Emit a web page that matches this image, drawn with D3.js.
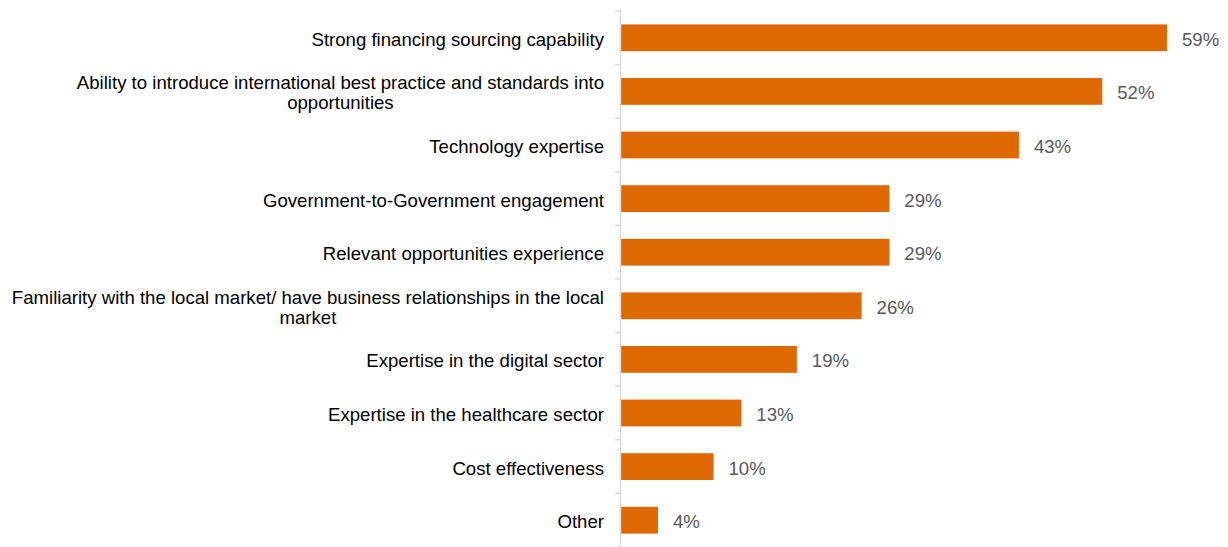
<!DOCTYPE html>
<html>
<head>
<meta charset="utf-8">
<script src="https://cdn.jsdelivr.net/npm/d3@7"></script>
<style>
  html, body { margin: 0; padding: 0; background: #fff; }
  svg { display: block; font-family: "Liberation Sans", Arial, sans-serif; }
</style>
</head>
<body>
<svg id="chart" width="1228" height="547"></svg>
<script>
// Survey responses: share of respondents citing each strength
const categories = [
  ["Strong financing sourcing capability"],
  ["Ability to introduce international best practice and standards into", "opportunities"],
  ["Technology expertise"],
  ["Government-to-Government engagement"],
  ["Relevant opportunities experience"],
  ["Familiarity with the local market/ have business relationships in the local", "market"],
  ["Expertise in the digital sector"],
  ["Expertise in the healthcare sector"],
  ["Cost effectiveness"],
  ["Other"]
];
const values = [59, 52, 43, 29, 29, 26, 19, 13, 10, 4];
const valueLabels = values.map(v => v + "%");

const svg = d3.select("#chart");
const axisX = 621;
const labelRight = 604;
const fontSize = 18.6;
const textShift = 1.5;

const y = d3.scaleBand()
  .domain(d3.range(categories.length))
  .range([11, 547])
  .paddingInner(0.5)
  .paddingOuter(0.25);

const x = d3.scaleLinear()
  .domain([0, 59])
  .range([axisX, 1167]);

// bars
svg.append("g").selectAll("rect")
  .data(values)
  .join("rect")
  .attr("x", x(0))
  .attr("y", (d, i) => y(i))
  .attr("width", d => x(d) - x(0))
  .attr("height", y.bandwidth())
  .attr("fill", "#df6900");

// value labels
svg.append("g").selectAll("text")
  .data(values)
  .join("text")
  .attr("x", d => x(d) + 15)
  .attr("y", (d, i) => y(i) + y.bandwidth() / 2 + textShift)
  .attr("dy", "0.35em")
  .attr("font-size", fontSize)
  .attr("fill", "#595959")
  .text((d, i) => valueLabels[i]);

// category axis line and tick marks at band boundaries
const axisG = svg.append("g");
const step = y.step();
const axisTop = y.range()[0];
axisG.append("line")
  .attr("x1", axisX - 0.5).attr("x2", axisX - 0.5)
  .attr("y1", axisTop).attr("y2", 547)
  .attr("stroke", "#d9d9d9").attr("stroke-width", 1.5);
axisG.selectAll("line.tick")
  .data(d3.range(categories.length + 1))
  .join("line")
  .attr("class", "tick")
  .attr("x1", axisX - 6).attr("x2", axisX)
  .attr("y1", i => axisTop + i * step)
  .attr("y2", i => axisTop + i * step)
  .attr("stroke", "#d9d9d9").attr("stroke-width", 1.5);

// category labels: block right-aligned, lines centred within block
const lineH = 20;
const labels = svg.append("g");
categories.forEach((lines, i) => {
  const cy = y(i) + y.bandwidth() / 2 + textShift;
  const t = labels.append("text")
    .attr("font-size", fontSize)
    .attr("fill", "#000")
    .attr("text-anchor", "middle");
  const spans = lines.map((ln, k) => t.append("tspan")
    .attr("y", cy + (k - (lines.length - 1) / 2) * lineH)
    .attr("dy", "0.35em")
    .text(ln));
  const w = d3.max(spans, s => s.node().getComputedTextLength());
  spans.forEach(s => s.attr("x", labelRight - w / 2));
});
</script>
</body>
</html>
